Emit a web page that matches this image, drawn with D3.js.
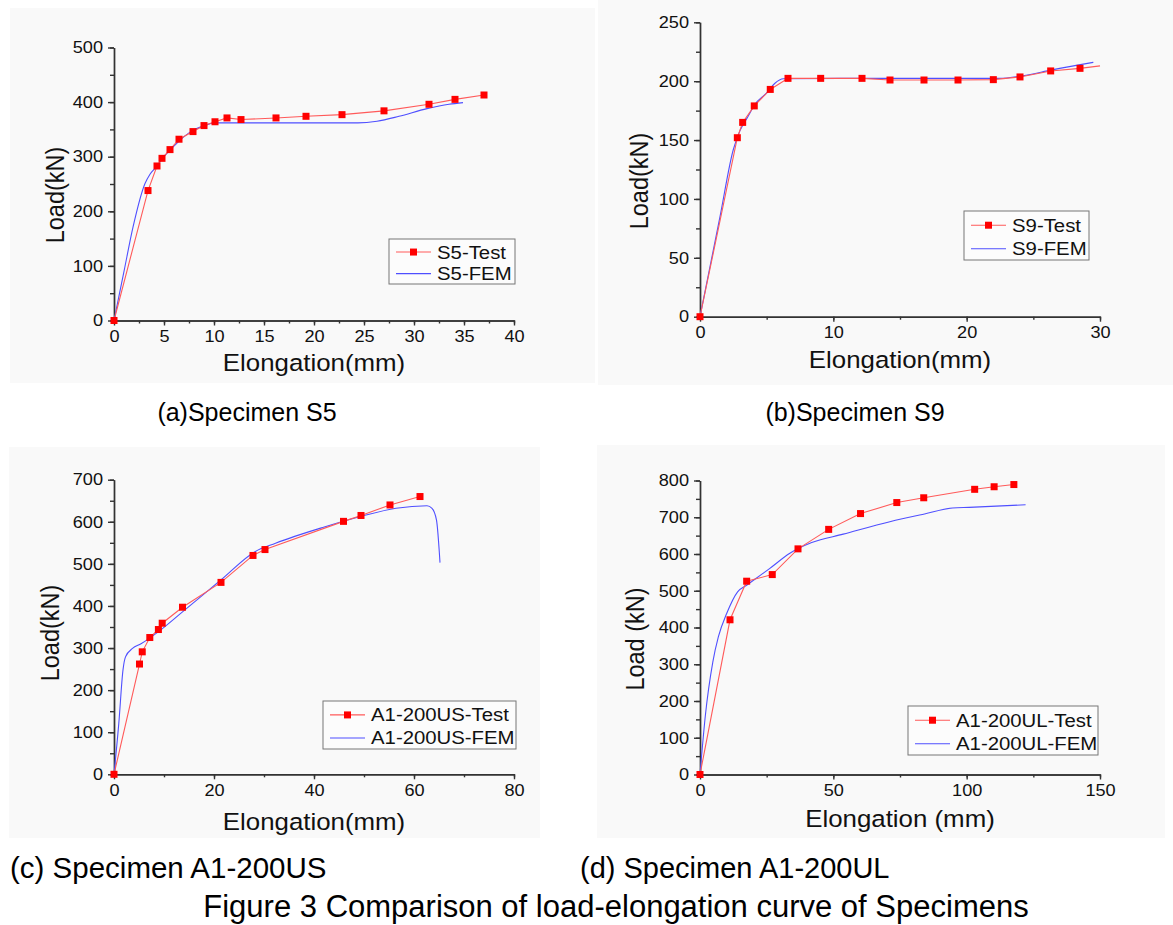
<!DOCTYPE html>
<html>
<head>
<meta charset="utf-8">
<script src="https://cdn.jsdelivr.net/npm/d3@7"></script>
<style>
  body { margin: 0; background: #fff; }
</style>
</head>
<body>
<svg width="1173" height="925"></svg>
<script>
// ---- data: [elongation (mm), load (kN)] ----
const s5Test = [[0,0],[3.4,238],[4.3,283],[4.8,297],[5.6,313],[6.5,332],[7.9,346],[9.0,357],[10.1,364],
  [11.3,371],[12.7,368],[16.2,371],[19.2,374],[22.8,377],[27.0,384],[31.5,396],[34.1,405],[37.0,413]];
const s5Fem = [[0,0],[1.0,90],[1.9,171],[3.1,251],[3.6,268],[4.3,283],[4.8,296],[5.5,310],[6.3,325],
  [7.6,345],[8.9,356],[10.1,362],[15,362],[20,362],[24.4,362],[26.3,365],[28.5,374],[31.3,388],[33.5,396],[34.9,399]];

const s9Test = [[0,0],[2.8,152],[3.2,165],[4.07,179],[5.27,193],[6.6,202.4],[9.05,202.4],[12.15,202.4],
  [14.25,201],[16.8,201],[19.35,201],[22.0,201.3],[24.0,203.6],[26.3,208.7],[28.5,210.9]];
const s9TestTail = [[28.5,210.9],[30,213]];
const s9Fem = [[0,0],[1.5,85],[2.5,142],[3.0,158],[3.6,170],[4.1,180],[5.0,190],[5.6,198],[6.25,202],
  [12,202.4],[22.4,202.4],[24.2,204.6],[26.4,209.6],[29.5,216]];

const usTest = [[0,0],[5.1,262],[5.65,291],[7.16,325],[8.88,344],[9.64,359],[13.7,397],[21.4,456],
  [27.8,520],[30.2,534],[45.9,601],[49.4,615],[55.2,640],[61.2,660]];
const usFem = [[0,0],[0.96,121],[1.8,248],[2.3,279],[3.7,299],[5.4,310],[8.9,339],[13.7,386],[21.3,461],
  [28.2,529],[32.3,549],[41.9,587],[49.5,613],[56.4,632],[62.6,638],[63.6,632],[64.5,604],[65.2,503]];

const ulTest = [[0,0],[11.25,421],[17.5,526],[27.1,544],[36.75,614],[48.25,667],[60.2,710],[73.8,740],
  [83.9,753],[103,776],[110.3,783],[117.7,789]];
const ulFem = [[0,0],[2,160],[4.8,306],[6.9,375],[10,438],[14.1,497],[17.5,515],[26.2,561],[33.7,602],
  [41.9,631],[53.7,654],[71.2,688],[84.2,709],[94.7,725],[100.9,727],[122.1,734]];

// ---- axes, labels ----
const xDomains = [[0,40],[0,30],[0,80],[0,150]];
const yDomains = [[0,500],[0,250],[0,700],[0,800]];
const xSteps = [[5,2.5],[10,5],[20,10],[50,25]];
const ySteps = [[100,50],[50,25],[100,50],[100,50]];
const xTitles = ["Elongation(mm)","Elongation(mm)","Elongation(mm)","Elongation (mm)"];
const yTitles = ["Load(kN)","Load(kN)","Load(kN)","Load (kN)"];
const legendNames = [["S5-Test","S5-FEM"],["S9-Test","S9-FEM"],["A1-200US-Test","A1-200US-FEM"],["A1-200UL-Test","A1-200UL-FEM"]];
const captions = ["(a)Specimen S5","(b)Specimen S9","(c) Specimen A1-200US","(d) Specimen A1-200UL"];
const figureTitle = "Figure 3 Comparison of load-elongation curve of Specimens";

const testSeries = [s5Test, s9Test, usTest, ulTest];
const testTails = [null, s9TestTail, null, null];
const femSeries = [s5Fem, s9Fem, usFem, ulFem];

// ---- layout ----
const layouts = [
  {bg:[10,8,585,375], l:114, r:514, t:47.5, b:320.5, xt:[314,371], yt:[64,195], lg:[389,239,126,45]},
  {bg:[598,0,575,385], l:700, r:1100, t:22.3, b:316.7, xt:[900,368], yt:[648,181], lg:[964,211,125,49]},
  {bg:[9,447,531,391], l:114, r:514, t:479.7, b:774.3, xt:[314,830], yt:[59,633], lg:[323,701,193,48]},
  {bg:[597,445,568,393], l:700, r:1100, t:480.5, b:774.5, xt:[900,827], yt:[644,639], lg:[908,706,190,49]}
];

const FONT = "'Liberation Sans', Arial, Helvetica, sans-serif";
const RED = "#ff0000", RED_LINE = "#ff5a5a", BLUE = "#4f4fff", AXIS = "#333";
const STRETCH = 1.1;

const svg = d3.select("svg").attr("font-family", FONT);

layouts.forEach((L, i) => {
  const g = svg.append("g");

  g.append("rect")
    .attr("x", L.bg[0]).attr("y", L.bg[1]).attr("width", L.bg[2]).attr("height", L.bg[3])
    .attr("fill", "#f9f9f9");

  const x = d3.scaleLinear().domain(xDomains[i]).range([L.l, L.r]);
  const y = d3.scaleLinear().domain(yDomains[i]).range([L.b, L.t]);

  const xMinor = d3.range(xDomains[i][0], xDomains[i][1] + 1e-9, xSteps[i][1]);
  const xMajor = d3.range(xDomains[i][0], xDomains[i][1] + 1e-9, xSteps[i][0]);
  const yMinor = d3.range(yDomains[i][0], yDomains[i][1] + 1e-9, ySteps[i][1]);
  const yMajor = d3.range(yDomains[i][0], yDomains[i][1] + 1e-9, ySteps[i][0]);

  // minor ticks
  g.append("g").attr("transform", `translate(0,${L.b})`)
    .call(d3.axisBottom(x).tickValues(xMinor).tickSize(3).tickSizeOuter(0).tickFormat(""));
  g.append("g").attr("transform", `translate(${L.l},0)`)
    .call(d3.axisLeft(y).tickValues(yMinor).tickSize(4).tickSizeOuter(0).tickFormat(""));

  // major ticks + labels
  const xa = g.append("g").attr("transform", `translate(0,${L.b})`)
    .call(d3.axisBottom(x).tickValues(xMajor).tickSize(5).tickSizeOuter(0).tickPadding(5).tickFormat(d3.format("d")));
  const ya = g.append("g").attr("transform", `translate(${L.l},0)`)
    .call(d3.axisLeft(y).tickValues(yMajor).tickSize(6).tickSizeOuter(0).tickPadding(4).tickFormat(d3.format("d")));

  g.selectAll(".domain, .tick line").attr("stroke", AXIS).attr("stroke-width", 1.4);
  [xa, ya].forEach(a => {
    a.attr("font-family", FONT).attr("font-size", 16.5);
    a.selectAll("text").attr("fill", "#111").attr("transform", `scale(${STRETCH},1)`);
  });

  // axis titles
  g.append("text")
    .attr("transform", `translate(${L.xt[0]},${L.xt[1]}) scale(${STRETCH},1)`)
    .attr("text-anchor", "middle").attr("font-size", 23.5).attr("fill", "#111")
    .text(xTitles[i]);
  g.append("text")
    .attr("transform", `translate(${L.yt[0]},${L.yt[1]}) scale(${STRETCH},1) rotate(-90)`)
    .attr("text-anchor", "middle").attr("font-size", 23.5).attr("fill", "#111")
    .text(yTitles[i]);

  // curves
  const lin = d3.line().x(d => x(d[0])).y(d => y(d[1]));
  const smooth = d3.line().x(d => x(d[0])).y(d => y(d[1])).curve(d3.curveMonotoneX);

  g.append("path").datum(femSeries[i])
    .attr("fill", "none").attr("stroke", BLUE).attr("stroke-width", 1.1).attr("d", smooth);
  g.append("path").datum(testSeries[i])
    .attr("fill", "none").attr("stroke", RED_LINE).attr("stroke-width", 1.1).attr("d", lin);
  if (testTails[i]) {
    g.append("path").datum(testTails[i])
      .attr("fill", "none").attr("stroke", RED_LINE).attr("stroke-width", 1.1).attr("d", lin);
  }
  g.selectAll("rect.mk").data(testSeries[i]).join("rect")
    .attr("class", "mk")
    .attr("x", d => x(d[0]) - 3.5).attr("y", d => y(d[1]) - 3.5)
    .attr("width", 7).attr("height", 7).attr("fill", RED);

  // legend
  const [lx, ly, lw, lh] = L.lg;
  const lg = g.append("g").attr("transform", `translate(${lx},${ly})`);
  lg.append("rect").attr("width", lw).attr("height", lh)
    .attr("fill", "#fcfcfc").attr("stroke", "#777").attr("stroke-width", 1);
  const rowY = [lh * 0.29, lh * 0.77];
  lg.append("line").attr("x1", 7).attr("x2", 42).attr("y1", rowY[0]).attr("y2", rowY[0])
    .attr("stroke", RED_LINE).attr("stroke-width", 1.1);
  lg.append("rect").attr("x", 24.5 - 3.5).attr("y", rowY[0] - 3.5).attr("width", 7).attr("height", 7).attr("fill", RED);
  lg.append("line").attr("x1", 7).attr("x2", 42).attr("y1", rowY[1]).attr("y2", rowY[1])
    .attr("stroke", BLUE).attr("stroke-width", 1.1);
  legendNames[i].forEach((name, k) => {
    lg.append("text")
      .attr("transform", `translate(48,${rowY[k] + 6.5}) scale(${STRETCH},1)`)
      .attr("font-size", 18.5).attr("fill", "#111").text(name);
  });
});

// captions
const capPos = [[247,421,"middle",25],[855,421,"middle",25],[10,878,"start",29.5],[580,878,"start",29]];
captions.forEach((c, i) => {
  svg.append("text").attr("x", capPos[i][0]).attr("y", capPos[i][1])
    .attr("text-anchor", capPos[i][2]).attr("font-size", capPos[i][3]).attr("fill", "#000").text(c);
});
svg.append("text").attr("x", 616).attr("y", 917).attr("text-anchor", "middle")
  .attr("font-size", 31).attr("fill", "#000").text(figureTitle);
</script>
</body>
</html>
